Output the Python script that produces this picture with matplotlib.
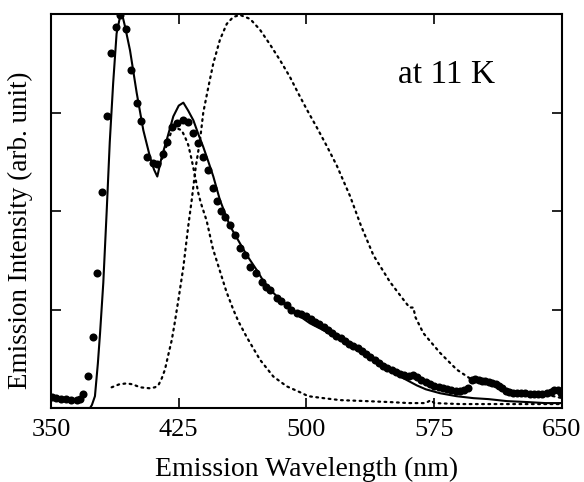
import matplotlib
matplotlib.use("Agg")
import matplotlib.pyplot as plt

# measured data (dots)
dots_x = [350.5, 353, 356, 359, 362, 365, 367, 369, 371.9, 374.8, 377.2, 379.7, 382.7, 385, 388.2, 390.5,
          394, 396.8, 400.3, 402.8, 406.5, 410, 412.4, 415.9, 418.3, 420.9, 423.8, 427.7, 430.2, 433.6,
          436.5, 439.4, 442.4, 445.3, 447.5, 450, 452.2, 455, 458, 461, 464, 466.9, 470.4, 473.7, 476,
          478.6, 482.5, 485, 488.4, 491, 494.3, 497, 500, 502.5, 505, 507.5, 510, 512.5, 515, 517.5,
          520, 522.5, 525, 527.5, 530, 532.5, 535, 537.5, 540, 542.5, 545, 547.5, 550, 552.5, 555,
          557.5, 560, 562.5, 565, 567.5, 570, 572.5, 575, 577.5, 580, 582.5, 585, 587.5, 590, 592.5,
          595, 597, 599, 601, 603, 605, 607, 609, 611, 613, 615, 617, 619, 621, 623.5, 626, 628.5,
          631, 633.5, 636, 638.5, 641, 643.5, 645.5, 647.5, 649.5]
dots_y = [0.11, 0.10, 0.09, 0.09, 0.08, 0.08, 0.09, 0.14, 0.32, 0.72, 1.37, 2.19, 2.96, 3.60, 3.87, 3.99,
          3.85, 3.43, 3.10, 2.91, 2.55, 2.49, 2.48, 2.58, 2.70, 2.85, 2.89, 2.92, 2.90, 2.79,
          2.69, 2.55, 2.42, 2.23, 2.10, 2.00, 1.94, 1.86, 1.76, 1.62, 1.55, 1.43, 1.37, 1.28, 1.23,
          1.20, 1.12, 1.09, 1.05, 1.00, 0.96, 0.95, 0.93, 0.90, 0.87, 0.85, 0.82, 0.79, 0.76, 0.73,
          0.71, 0.68, 0.65, 0.63, 0.61, 0.58, 0.55, 0.52, 0.49, 0.46, 0.43, 0.41, 0.39, 0.37, 0.35,
          0.33, 0.32, 0.34, 0.31, 0.28, 0.26, 0.24, 0.22, 0.21, 0.20, 0.19, 0.18, 0.17, 0.17, 0.18,
          0.20, 0.28, 0.29, 0.28, 0.27, 0.27, 0.26, 0.25, 0.24, 0.22, 0.20, 0.17, 0.16, 0.15, 0.15, 0.15, 0.15,
          0.14, 0.14, 0.14, 0.14, 0.15, 0.16, 0.18, 0.18, 0.15]

# fitted curve (solid)
fit_x = [350, 371, 372.9, 374, 375.8, 377.5, 378.8, 380.7, 382.7, 384.5, 386.5, 388.5, 390.5, 391.7,
         393.5, 396.4, 400.3, 404.2, 408.1, 410.5, 412.4, 415, 417.9, 421.8, 425, 427.7, 430.5, 433.6,
         436.5, 439.4, 442.4, 445.3, 449.2, 455, 461, 465, 470.8, 475, 480.5, 488, 496.2, 502, 509.9,
         520, 529.5, 540, 549.1, 556, 564.7, 570, 578.4, 588, 598, 607, 617.6, 630, 640, 650]
fit_y = [0.0, 0.0, 0.0, 0.03, 0.12, 0.45, 0.76, 1.27, 2.00, 2.70, 3.30, 3.80, 3.97, 4.00,
         3.87, 3.63, 3.20, 2.82, 2.55, 2.42, 2.35, 2.55, 2.72, 2.96, 3.07, 3.10, 3.02, 2.92,
         2.78, 2.65, 2.50, 2.35, 2.11, 1.85, 1.67, 1.55, 1.40, 1.28, 1.17, 1.04, 0.93, 0.86, 0.79,
         0.69, 0.59, 0.48, 0.39, 0.31, 0.23, 0.19, 0.15, 0.12, 0.10, 0.09, 0.07, 0.06, 0.05, 0.05]

# broad component (dotted)
broad_x = [385.6, 390, 394.4, 398, 402.3, 408.1, 411, 413, 415, 416.9, 419, 420.9, 422.5, 424.8,
           427.7, 430.6, 432.6, 435, 437.5, 439.4, 442.4, 445.3, 449.2, 453.2, 457, 461, 466.9,
           472.7, 478.6, 484.5, 490.3, 495, 500.2, 506, 511.9, 517.8, 525.6, 532, 539.3, 549,
           556.9, 560.5, 562.7, 564, 568.6, 578.4, 588.2, 596, 605, 615, 625, 635, 645, 650]
broad_y = [0.21, 0.24, 0.25, 0.24, 0.21, 0.20, 0.21, 0.23, 0.30, 0.39, 0.55, 0.69, 0.85, 1.10,
           1.43, 1.85, 2.11, 2.45, 2.72, 3.00, 3.26, 3.50, 3.74, 3.90, 3.97, 3.99, 3.95,
           3.84, 3.69, 3.53, 3.36, 3.20, 3.03, 2.85, 2.66, 2.46, 2.15, 1.85, 1.55, 1.28,
           1.10, 1.02, 1.02, 0.92, 0.76, 0.56, 0.39, 0.30, 0.25, 0.20, 0.16, 0.14, 0.12, 0.10]

# narrow component (dotted)
narrow_x = [414, 417, 420.9, 423.8, 426.7, 428.7, 430.6, 432.6, 434.6, 436.5, 438, 441.4, 445, 449,
            453, 457, 460, 464.9, 472.7, 480.5, 488.4, 496.2, 501, 510, 519.7, 535, 549, 560, 570,
            573, 575, 590, 610, 630, 650]
narrow_y = [2.47, 2.62, 2.82, 2.84, 2.82, 2.75, 2.67, 2.52, 2.35, 2.18, 2.08, 1.90, 1.62, 1.40,
            1.18, 1.00, 0.88, 0.72, 0.49, 0.32, 0.22, 0.16, 0.12, 0.10, 0.08, 0.07, 0.06, 0.05, 0.05,
            0.08, 0.05, 0.04, 0.04, 0.04, 0.04]

xticks = [350, 425, 500, 575, 650]
yticks = [0, 1, 2, 3, 4]

plt.rcParams['font.family'] = ['Liberation Serif', 'DejaVu Serif']

fig = plt.figure(figsize=(5.84, 4.82), dpi=100)
ax = fig.add_axes([51 / 584, 1 - 408 / 482, 511 / 584, 394 / 482])

ax.plot(broad_x, broad_y, color='black', lw=1.6, linestyle=(0, (0.8, 2.0)), dash_capstyle='round')
ax.plot(narrow_x, narrow_y, color='black', lw=1.6, linestyle=(0, (0.8, 2.0)), dash_capstyle='round')
ax.plot(fit_x, fit_y, color='black', lw=1.5)
ax.plot(dots_x, dots_y, 'o', color='black', ms=5.8, mew=0)

ax.set_xlim(350, 650)
ax.set_ylim(0, 4)
ax.set_xticks(xticks)
ax.set_yticks(yticks)
ax.set_yticklabels([])
ax.tick_params(direction='in', length=7, width=1.2, top=True, right=True, labelsize=19, pad=8)
for s in ax.spines.values():
    s.set_linewidth(1.5)

ax.set_xlabel('Emission Wavelength (nm)', fontsize=20, labelpad=11)
ax.set_ylabel('Emission Intensity (arb. unit)', fontsize=19.5)
ax.yaxis.set_label_coords(-0.035, 0.45)

ax.text(553.5, 3.38, 'at 11 K', fontsize=24, ha='left', va='center')

fig.savefig('out.png', dpi=100)
